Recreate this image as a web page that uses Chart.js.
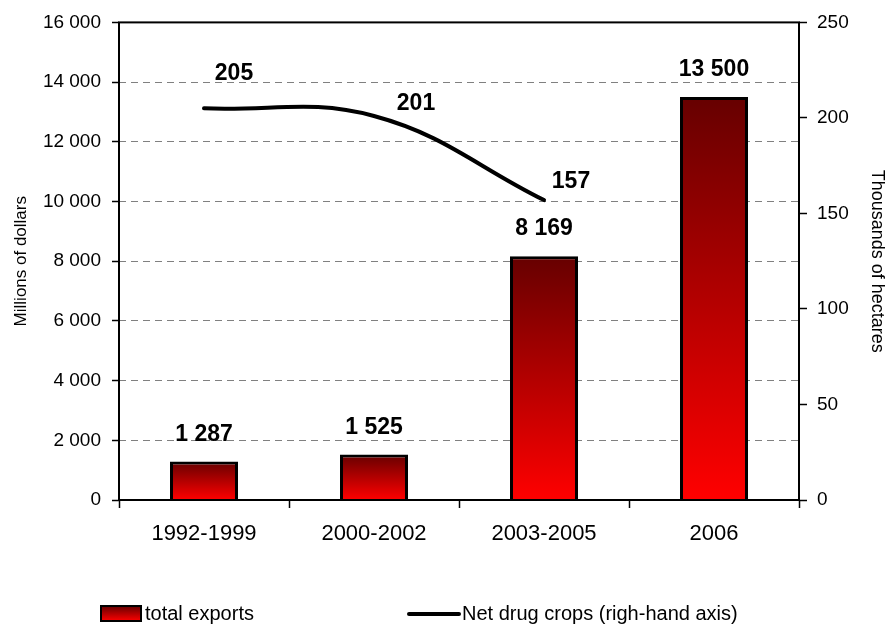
<!DOCTYPE html>
<html>
<head>
<meta charset="utf-8">
<script src="https://cdn.jsdelivr.net/npm/chart.js@4.4.1/dist/chart.umd.min.js"></script>
<style>
  body { margin: 0; background: #fff; }
  #wrap { width: 891px; height: 633px; }
</style>
</head>
<body>
<div id="wrap"><canvas id="exportsChart" width="891" height="633"></canvas></div>
<script>
const categories = ['1992-1999', '2000-2002', '2003-2005', '2006'];
const totalExports = [1287, 1525, 8169, 13500];
const netDrugCrops = [205, 201, 157, null];
const leftAxisTicks = { min: 0, max: 16000, step: 2000 };
const rightAxisTicks = { min: 0, max: 250, step: 50 };

const FONT = "'Liberation Sans', Arial, sans-serif";

function spaced(v) {
  return String(v).replace(/\B(?=(\d{3})+(?!\d))/g, ' ');
}

function barGradient(ctx2, top, bottom) {
  const g = ctx2.createLinearGradient(0, top, 0, bottom);
  g.addColorStop(0, '#660000');
  g.addColorStop(1, '#ff0000');
  return g;
}

function barFill(context) {
  const chart = context.chart;
  if (!chart.chartArea || context.type !== 'data') return '#cc0000';
  const y = chart.scales.y;
  return barGradient(chart.ctx, y.getPixelForValue(context.raw), y.getPixelForValue(0));
}

// frame round the plot area
const framePlugin = {
  id: 'frame',
  afterDatasetsDraw(chart) {
    const a = chart.chartArea;
    const ctx = chart.ctx;
    ctx.save();
    ctx.strokeStyle = '#000';
    ctx.lineWidth = 2;
    ctx.strokeRect(a.left, a.top, a.right - a.left, a.bottom - a.top);
    ctx.restore();
  }
};

// value labels over bars and beside line points
const lineLabelOffsets = [[30, -35], [42, -12], [27, -18]];
const valueLabels = {
  id: 'valueLabels',
  afterDatasetsDraw(chart) {
    const ctx = chart.ctx;
    ctx.save();
    ctx.font = 'bold 23px ' + FONT;
    ctx.fillStyle = '#000';
    ctx.textAlign = 'center';
    ctx.textBaseline = 'middle';
    chart.getDatasetMeta(0).data.forEach((bar, i) => {
      ctx.fillText(spaced(totalExports[i]), bar.x, bar.y - 27);
    });
    chart.getDatasetMeta(1).data.forEach((pt, i) => {
      if (netDrugCrops[i] == null) return;
      const off = lineLabelOffsets[i];
      ctx.fillText(String(netDrugCrops[i]), pt.x + off[0], pt.y + off[1]);
    });
    ctx.restore();
  }
};

// legend at the bottom
const bottomLegend = {
  id: 'bottomLegend',
  afterDraw(chart) {
    const ctx = chart.ctx;
    const ds = chart.data.datasets;
    const y = 614;
    ctx.save();
    ctx.fillStyle = barGradient(ctx, 606, 621);
    ctx.fillRect(101, 606, 40, 15);
    ctx.strokeStyle = '#000';
    ctx.lineWidth = 2;
    ctx.strokeRect(101, 606, 40, 15);
    ctx.font = '20px ' + FONT;
    ctx.fillStyle = '#000';
    ctx.textAlign = 'left';
    ctx.textBaseline = 'middle';
    ctx.fillText(ds[0].label, 145, y);
    ctx.beginPath();
    ctx.lineWidth = 4;
    ctx.lineCap = 'round';
    ctx.moveTo(409, y);
    ctx.lineTo(459, y);
    ctx.stroke();
    ctx.fillText(ds[1].label, 462, y);
    ctx.restore();
  }
};

const ctx = document.getElementById('exportsChart').getContext('2d');
const chart = new Chart(ctx, {
  data: {
    labels: categories,
    datasets: [{
      type: 'bar',
      label: 'total exports',
      data: totalExports,
      yAxisID: 'y',
      backgroundColor: barFill,
      borderColor: '#000',
      borderWidth: 3,
      barPercentage: 0.4,
      categoryPercentage: 1,
      order: 2
    }, {
      type: 'line',
      label: 'Net drug crops (righ-hand axis)',
      data: netDrugCrops,
      yAxisID: 'y1',
      borderColor: '#000',
      borderWidth: 4,
      borderCapStyle: 'round',
      pointRadius: 0,
      tension: 0.4,
      order: 1
    }]
  },
  options: {
    responsive: false,
    animation: false,
    devicePixelRatio: 1,
    layout: { padding: { top: 20, left: 0, right: 0, bottom: 0 } },
    plugins: {
      legend: { display: false },
      tooltip: { enabled: false }
    },
    scales: {
      x: {
        offset: true,
        afterFit(scale) { scale.height = 133; },
        border: { display: false },
        grid: {
          offset: true,
          drawOnChartArea: false,
          tickLength: 8,
          tickColor: '#000',
          tickWidth: 1.5
        },
        ticks: {
          color: '#000',
          padding: 13,
          font: { family: FONT, size: 22 }
        }
      },
      y: {
        position: 'left',
        min: leftAxisTicks.min,
        max: leftAxisTicks.max,
        afterFit(scale) { scale.width = 119; },
        border: { display: false, dash: [7, 5] },
        grid: {
          color(c) {
            const v = c.tick ? c.tick.value : null;
            return (v === leftAxisTicks.min || v === leftAxisTicks.max) ? 'rgba(0,0,0,0)' : '#808080';
          },
          lineWidth: 1,
          tickLength: 7,
          tickColor: '#000',
          tickWidth: 1.5,
          tickBorderDash: []
        },
        ticks: {
          stepSize: leftAxisTicks.step,
          color: '#000',
          padding: 11,
          font: { family: FONT, size: 19 },
          callback: (v) => spaced(v)
        },
        title: {
          display: true,
          text: 'Millions of dollars',
          color: '#000',
          padding: { top: 11, bottom: 0 },
          font: { family: FONT, size: 17 }
        }
      },
      y1: {
        position: 'right',
        min: rightAxisTicks.min,
        max: rightAxisTicks.max,
        afterFit(scale) { scale.width = 92; },
        border: { display: false },
        grid: {
          drawOnChartArea: false,
          tickLength: 8,
          tickColor: '#000',
          tickWidth: 1.5
        },
        ticks: {
          stepSize: rightAxisTicks.step,
          color: '#000',
          padding: 10,
          font: { family: FONT, size: 19 }
        },
        title: {
          display: true,
          text: 'Thousands of hectares',
          color: '#000',
          padding: { top: 3, bottom: 0 },
          font: { family: FONT, size: 18 }
        }
      }
    }
  },
  plugins: [framePlugin, valueLabels, bottomLegend]
});
</script>
</body>
</html>
